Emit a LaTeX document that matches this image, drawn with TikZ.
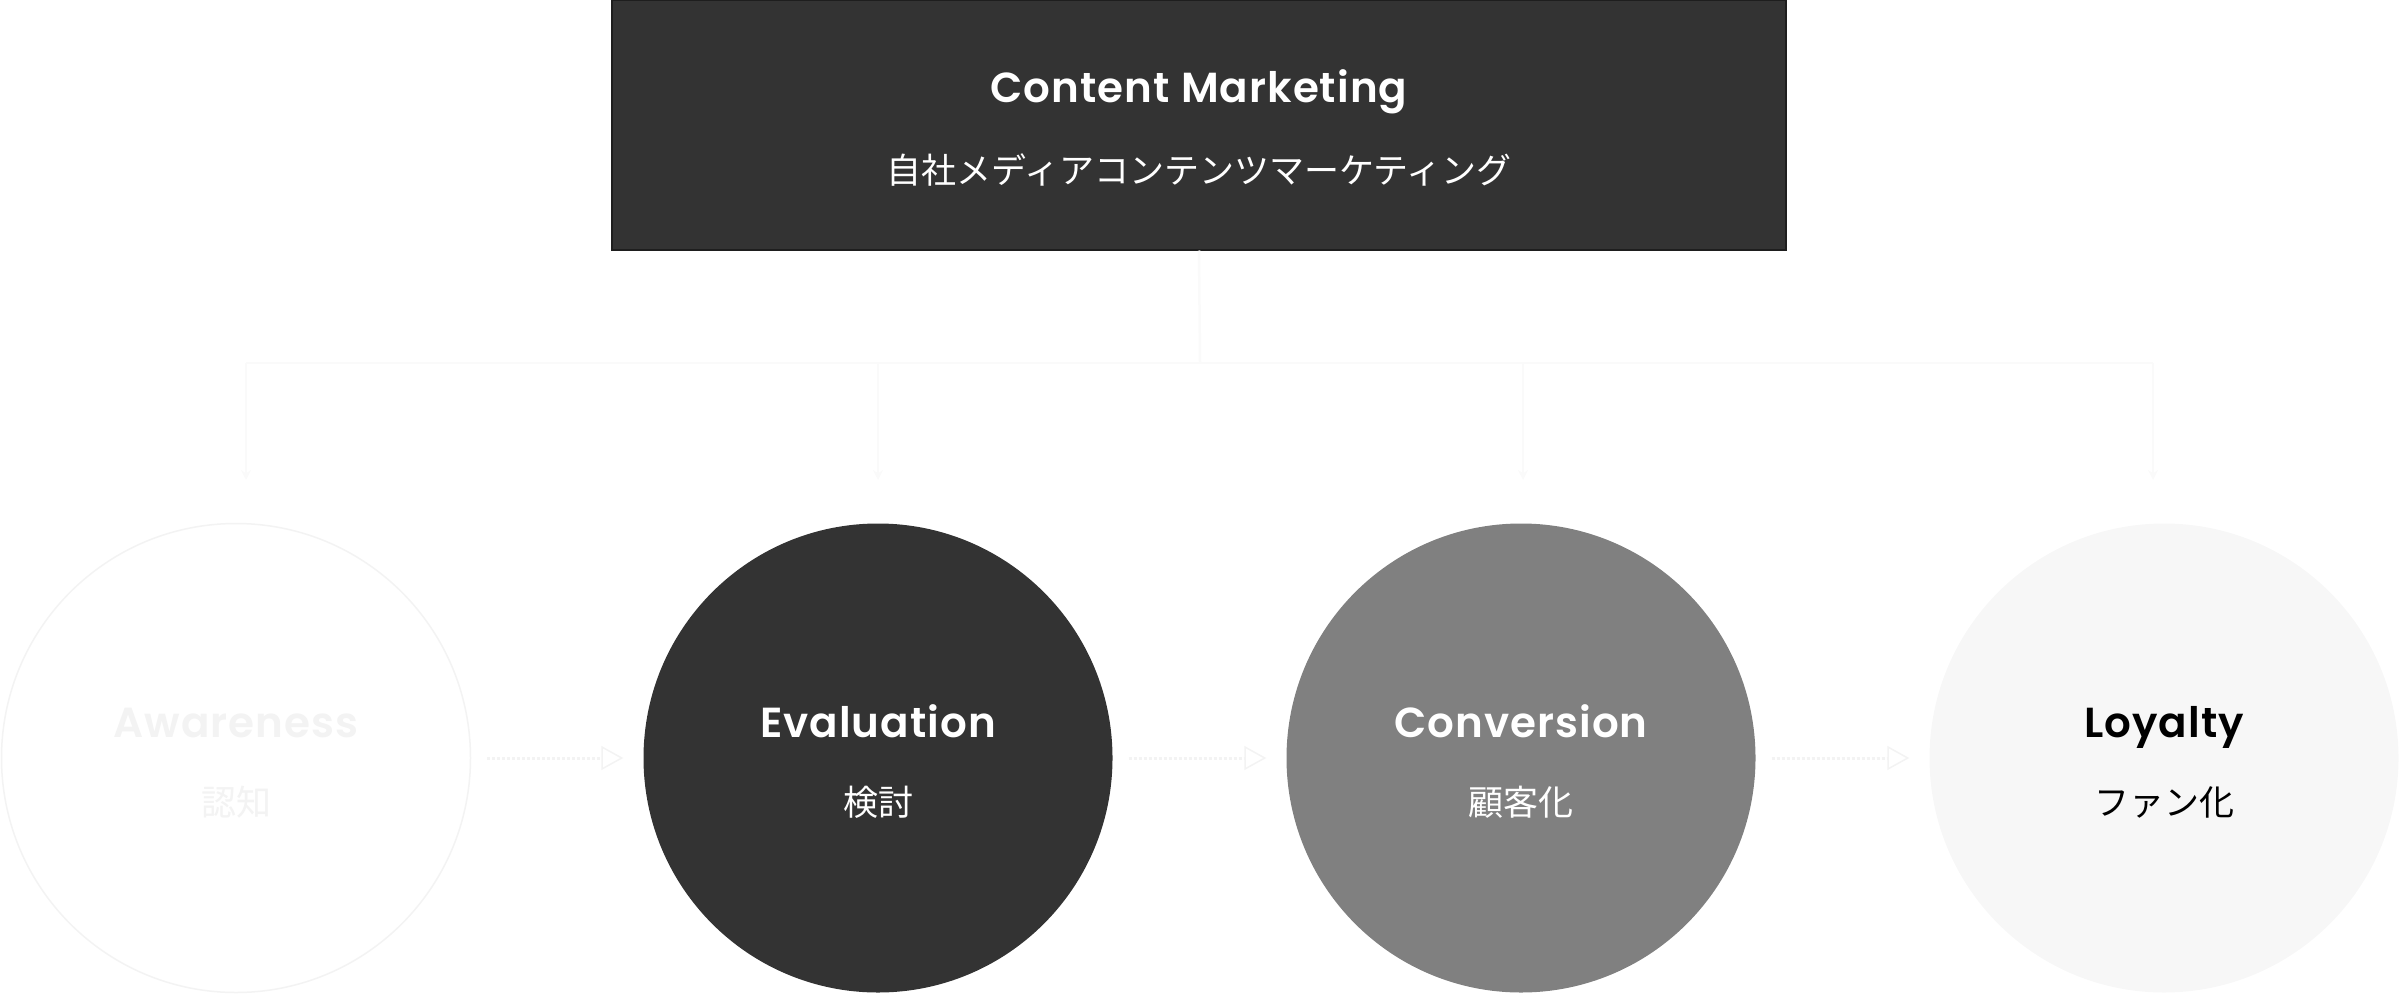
\documentclass[tikz,border=0pt]{standalone}
\usepackage{fontspec}
\usetikzlibrary{arrows.meta}
\newfontfamily\lat{Poppins}[BoldFont={Poppins SemiBold}, LetterSpace=2.5]
\newfontfamily\cjk{Noto Sans CJK JP}
\definecolor{dark}{HTML}{333333}
\definecolor{darkline}{HTML}{1E1E1E}
\definecolor{midgray}{HTML}{808080}
\definecolor{pale}{HTML}{F7F7F7}
\definecolor{faint}{HTML}{F3F3F3}
\definecolor{conncol}{HTML}{FAFAFA}
\tikzset{
  topbox/.style={draw=darkline, line width=2pt, fill=dark, minimum width=1174pt, minimum height=249pt, inner sep=0pt},
  stage/.style={circle, minimum size=469pt, inner sep=0pt},
  ttl/.style={font=\lat\bfseries\fontsize{42}{46}\selectfont, inner sep=0pt, anchor=base},
  sub/.style={font=\cjk\fontsize{35}{40}\selectfont, inner sep=0pt},
  conn/.style={draw=conncol, line width=2.5pt},
  connarrow/.style={conn, -{Stealth[length=10pt,width=10pt]}},
  flow/.style={draw=faint, line width=3pt, dotted, -{Triangle[open,length=22pt,width=24pt,line width=1.5pt]}}
}
\begin{document}
\begin{tikzpicture}[x=1pt,y=-1pt]
\useasboundingbox (0,0) rectangle (2400,995);
% top box
\node[topbox] (cm) at (1199,125) {};
\node[ttl, text=white] (cmt) at (1199,103) {Content Marketing};
\node[sub, text=white] (cms) at (1199,170) {自社メディアコンテンツマーケティング};
% stages
\node[stage, draw=faint, line width=1.5pt, fill=white] (aw) at (236,758) {};
\node[stage, fill=dark] (ev) at (878,758) {};
\node[stage, fill=midgray] (co) at (1521,758) {};
\node[stage, fill=pale] (lo) at (2164,758) {};
\node[ttl, text=faint] (awt) at (236,737) {Awareness};
\node[sub, text=faint] (aws) at (236,802) {認知};
\node[ttl, text=white] (evt) at (878,737) {Evaluation};
\node[sub, text=white] (evs) at (878,802) {検討};
\node[ttl, text=white] (cot) at (1521,737) {Conversion};
\node[sub, text=white] (cos) at (1521,802) {顧客化};
\node[ttl, text=black] (lot) at (2164,737) {Loyalty};
\node[sub, text=black] (los) at (2164,802) {ファン化};
% tree connectors
\coordinate (j) at (1200,363);
\coordinate (jl) at (246,363);
\coordinate (jr) at (2153,363);
\coordinate (e1) at (246,480);
\coordinate (e2) at (878,480);
\coordinate (e3) at (1523,480);
\coordinate (e4) at (2153,480);
\draw[conn] (cm.south) -- (j);
\draw[conn] (jl) -- (jr);
\draw[connarrow] (jl) -- (e1);
\draw[connarrow] (e2 |- j) -- (e2);
\draw[connarrow] (e3 |- j) -- (e3);
\draw[connarrow] (jr) -- (e4);
% flow arrows
\draw[flow] ([xshift=16pt]aw.east) -- ([xshift=-20pt]ev.west);
\draw[flow] ([xshift=16pt]ev.east) -- ([xshift=-20pt]co.west);
\draw[flow] ([xshift=16pt]co.east) -- ([xshift=-20pt]lo.west);
\end{tikzpicture}
\end{document}
